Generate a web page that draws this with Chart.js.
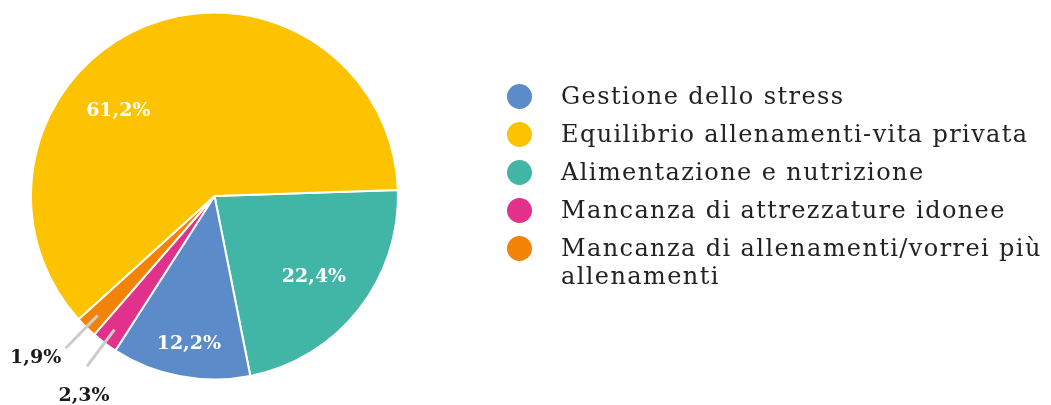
<!DOCTYPE html>
<html><head><meta charset="utf-8">
<script src="https://cdn.jsdelivr.net/npm/chart.js@4/dist/chart.umd.min.js"></script>
<style>
html,body{margin:0;padding:0;background:#fff;}
#wrap{position:relative;width:1051px;height:405px;overflow:hidden;}
#c{position:absolute;left:0;top:0;}
#legend{position:absolute;left:505px;top:82px;margin:0;padding:0;list-style:none;font-family:"DejaVu Serif";font-size:24px;letter-spacing:1.4px;color:#222;}
#legend li{position:relative;padding-left:56px;line-height:28px;margin:0 0 10px 0;width:490px;}
#legend .dot{position:absolute;left:2px;top:1.5px;width:25px;height:25px;border-radius:50%;}
</style></head>
<body>
<div id="wrap">
<canvas id="c" width="1051" height="405"></canvas>
<ul id="legend"></ul>
</div>
<script>
// slices in drawing order (clockwise)
const categories = [
  "Alimentazione e nutrizione",
  "Gestione dello stress",
  "Mancanza di attrezzature idonee",
  "Mancanza di allenamenti/vorrei più allenamenti",
  "Equilibrio allenamenti-vita privata"
];
const values = [22.4, 12.2, 2.3, 1.9, 61.2];
const colors = ["#41b6a6", "#5b8bc8", "#e2318a", "#f28307", "#fdc300"];
// legend order (indices into categories)
const legendOrder = [1, 4, 0, 2, 3];

const fmt = v => v.toFixed(1).replace('.', ',') + '%';

// label placement styling per slice
const placement = [
  {type: 'in', a: 0.51, r: 0.70},
  {type: 'in', a: 0.48, r: 0.82},
  {type: 'out', r1: 0.91, r2: 1.16, dx: -3, dy: 30},
  {type: 'out', r1: 0.91, r2: 1.16, dx: -30, dy: 10},
  {type: 'in', a: 0.38, r: 0.70}
];

const labelPlugin = {
  id: 'sliceLabels',
  afterDatasetsDraw(chart) {
    const ctx = chart.ctx;
    const meta = chart.getDatasetMeta(0);
    ctx.save();
    ctx.font = 'bold 19px "DejaVu Serif"';
    ctx.textAlign = 'center';
    ctx.textBaseline = 'middle';
    meta.data.forEach((arc, i) => {
      const p = arc.getProps(['x', 'y', 'startAngle', 'endAngle', 'outerRadius'], true);
      const pl = placement[i];
      const txt = fmt(values[i]);
      if (pl.type === 'in') {
        const ang = p.startAngle + (p.endAngle - p.startAngle) * pl.a;
        const rr = p.outerRadius * pl.r;
        ctx.fillStyle = '#ffffff';
        ctx.fillText(txt, p.x + Math.cos(ang) * rr, p.y + Math.sin(ang) * rr);
      } else {
        const ang = (p.startAngle + p.endAngle) / 2;
        const x1 = p.x + Math.cos(ang) * p.outerRadius * pl.r1;
        const y1 = p.y + Math.sin(ang) * p.outerRadius * pl.r1;
        const x2 = p.x + Math.cos(ang) * p.outerRadius * pl.r2;
        const y2 = p.y + Math.sin(ang) * p.outerRadius * pl.r2;
        ctx.strokeStyle = '#cccccc';
        ctx.lineWidth = 3;
        ctx.beginPath();
        ctx.moveTo(x1, y1);
        ctx.lineTo(x2, y2);
        ctx.stroke();
        ctx.fillStyle = '#1a1a1a';
        ctx.fillText(txt, x2 + pl.dx, y2 + pl.dy);
      }
    });
    ctx.restore();
  }
};

new Chart(document.getElementById('c'), {
  type: 'pie',
  data: {
    labels: categories,
    datasets: [{
      data: values,
      backgroundColor: colors,
      borderColor: '#ffffff',
      borderWidth: 2,
      hoverOffset: 0,
      offset: 0
    }]
  },
  options: {
    responsive: false,
    animation: false,
    rotation: 88.1,
    layout: {padding: {left: 30, right: 652, top: 11, bottom: 24}},
    plugins: {legend: {display: false}, tooltip: {enabled: false}}
  },
  plugins: [labelPlugin]
});

const ul = document.getElementById('legend');
legendOrder.forEach(i => {
  const li = document.createElement('li');
  const dot = document.createElement('span');
  dot.className = 'dot';
  dot.style.background = colors[i];
  li.appendChild(dot);
  li.appendChild(document.createTextNode(categories[i]));
  ul.appendChild(li);
});
</script>
</body></html>
